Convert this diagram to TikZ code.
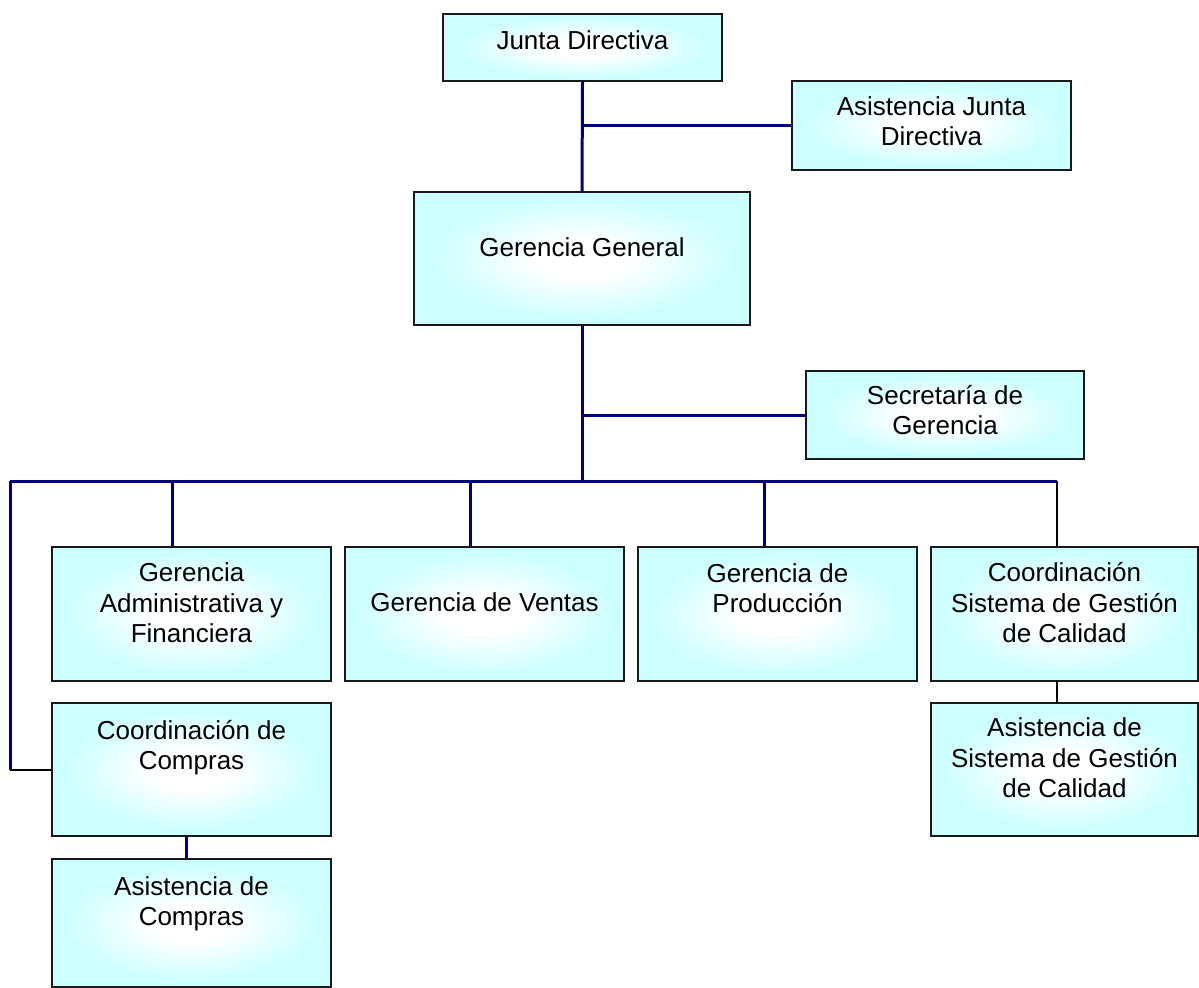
\documentclass[tikz,border=0pt]{standalone}
\usepackage{fontspec}
\setmainfont{Liberation Sans}
\usetikzlibrary{calc,fit}

\definecolor{boxcyan}{RGB}{204,255,255}
\definecolor{linknavy}{RGB}{0,0,128}

% soft white centre fading to light cyan towards the box edges
\pgfdeclareradialshading{boxglow}{\pgfpoint{0bp}{0bp}}{%
  color(0bp)=(white); color(7bp)=(white); color(23bp)=(boxcyan); color(50bp)=(boxcyan)}

\tikzset{
  orgbox/.style={draw=black!90, line width=1.7pt, shading=boxglow, inner sep=0pt},
  % base anchor sits on the last line, so offsets below are to that line
  boxtext/.style={anchor=base, align=center, inner sep=0pt,
    font=\fontsize{19.5}{23}\selectfont},
  navylink/.style={draw=linknavy, line width=2.25pt},
  blacklink/.style={draw=black, line width=1.6pt},
}

\begin{document}
\begin{tikzpicture}[x=0.75pt, y=-0.75pt]
\useasboundingbox (0,0) rectangle (1199,988);

% boxes
\node[orgbox, fit={(443,14) (722,81)}]    (jd)   {};
\node[orgbox, fit={(792,81) (1071,170)}]  (ajd)  {};
\node[orgbox, fit={(414,192) (750,325)}]  (gg)   {};
\node[orgbox, fit={(806,371) (1084,459)}] (sec)  {};
\node[orgbox, fit={(52,547) (331,681)}]   (gaf)  {};
\node[orgbox, fit={(345,547) (624,681)}]  (gv)   {};
\node[orgbox, fit={(638,547) (917,681)}]  (gp)   {};
\node[orgbox, fit={(931,547) (1198,681)}] (csgc) {};
\node[orgbox, fit={(931,703) (1198,836)}] (asgc) {};
\node[orgbox, fit={(52,703) (331,836)}]   (cc)   {};
\node[orgbox, fit={(52,859) (331,987)}]   (ac)   {};

% labels (line pitch about 30.7 px)
\node[boxtext] (jd-t)   at ($(jd.north)+(0,37)$)   {Junta Directiva};
\node[boxtext] (ajd-t)  at ($(ajd.north)+(0,66)$)  {Asistencia Junta\\Directiva};
\node[boxtext] (gg-t)   at ($(gg.north)+(0,66)$)   {Gerencia General};
\node[boxtext] (sec-t)  at ($(sec.north)+(0,65)$)  {Secretaría de\\Gerencia};
\node[boxtext] (gaf-t)  at ($(gaf.north)+(0,97)$)  {Gerencia\\Administrativa y\\Financiera};
\node[boxtext] (gv-t)   at ($(gv.north)+(0,66)$)   {Gerencia de Ventas};
\node[boxtext] (gp-t)   at ($(gp.north)+(0,67)$)   {Gerencia de\\Producción};
\node[boxtext] (csgc-t) at ($(csgc.north)+(0,97)$) {Coordinación\\Sistema de Gestión\\de Calidad};
\node[boxtext] (asgc-t) at ($(asgc.north)+(0,96)$) {Asistencia de\\Sistema de Gestión\\de Calidad};
\node[boxtext] (cc-t)   at ($(cc.north)+(0,68)$)   {Coordinación de\\Compras};
\node[boxtext] (ac-t)   at ($(ac.north)+(0,68)$)   {Asistencia de\\Compras};

% junction points
\coordinate (tapjd)   at (582,126);
\coordinate (tapsec)  at (582,415);
\coordinate (bus)     at (582,481);
\coordinate (busL)    at (10,481);
\coordinate (busR)    at (1057,481);
\coordinate (dropA)   at (172,481);
\coordinate (dropV)   at (470,481);
\coordinate (dropP)   at (764,481);
\coordinate (elbow)   at (10,770);
\coordinate (ccdrop)  at (186,836);
\coordinate (sgcdrop) at (1057,681);

% connectors
\draw[navylink] (jd.south) -- (gg.north);
\draw[navylink] (tapjd) -- (tapjd -| ajd.west);
\draw[navylink] (gg.south) -- (bus);
\draw[navylink] (tapsec) -- (tapsec -| sec.west);
\draw[navylink] (busL) -- (busR);
\draw[navylink] (dropA) -- (dropA |- gaf.north);
\draw[navylink] (dropV) -- (dropV |- gv.north);
\draw[navylink] (dropP) -- (dropP |- gp.north);
\draw[blacklink] (busR) -- (busR |- csgc.north);
\draw[navylink] (busL) -- (elbow);
\draw[blacklink] (elbow) -- (elbow -| cc.west);
\draw[navylink] (ccdrop |- cc.south) -- (ccdrop |- ac.north);
\draw[blacklink] (sgcdrop |- csgc.south) -- (sgcdrop |- asgc.north);
\end{tikzpicture}
\end{document}
